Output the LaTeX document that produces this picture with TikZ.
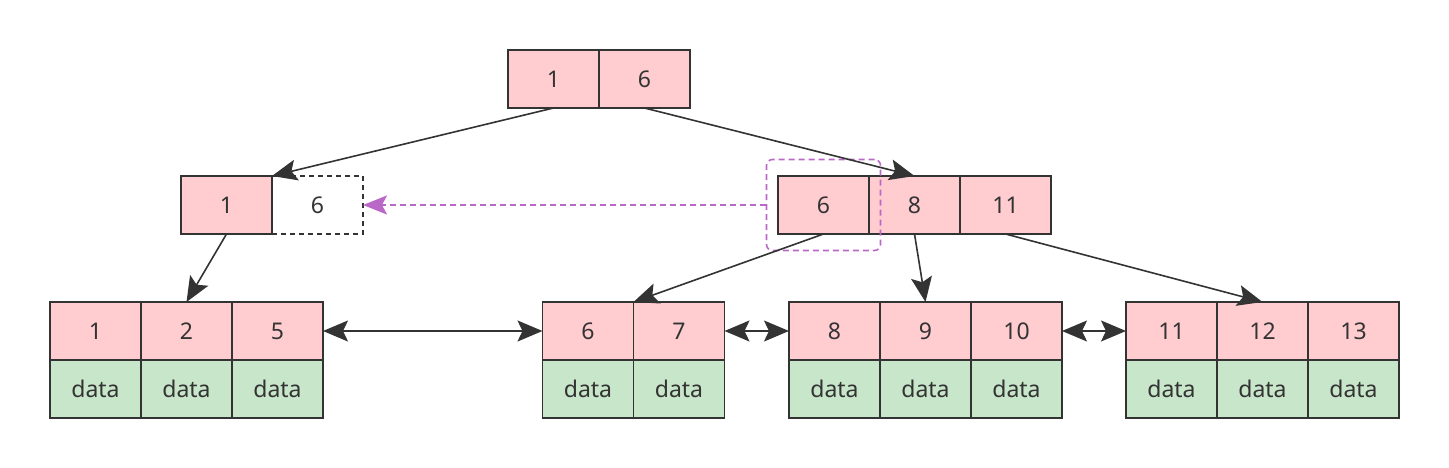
\documentclass[tikz,border=0pt]{standalone}
\usepackage{fontspec}
\setmainfont{Noto Sans}
\usepackage{tikz}
\usetikzlibrary{arrows.meta,positioning,fit}
\definecolor{keypink}{HTML}{FFCCD0}
\definecolor{datagreen}{HTML}{C8E6C9}
\definecolor{edgegray}{HTML}{333333}
\definecolor{linkpurple}{HTML}{BA68C8}
\tikzset{
  keycell/.style   = {draw=edgegray,line width=1.6pt,fill=keypink,minimum width=91pt,
                      minimum height=58pt,inner sep=0pt,outer sep=0pt,text=edgegray},
  datacell/.style  = {keycell,fill=datagreen},
  ghostcell/.style = {keycell,fill=none,dashed,dash pattern=on 5pt off 4pt},
  ptrarr/.style    = {-{Stealth[length=25pt,width=21pt,inset=5pt]},line width=1.6pt,edgegray},
  linkarr/.style   = {{Stealth[length=25pt,width=21pt,inset=5pt]}-{Stealth[length=25pt,width=21pt,inset=5pt]},
                      line width=1.6pt,edgegray},
  selbox/.style    = {draw=linkpurple,line width=1.6pt,dash pattern=on 6pt off 4pt,
                      rounded corners=6pt,inner xsep=11.5pt,inner ysep=16.5pt}
}
% one leaf cell: key on top, data below
\newcommand{\leafcell}[3]{%
  \node[keycell,#2] (l#1) {#3};
  \node[datacell,below=0pt of l#1] (d#1) {data};
}
\begin{document}
\begin{tikzpicture}[x=1pt,y=-1pt,font=\fontsize{23pt}{27pt}\selectfont]
  \useasboundingbox (0,0) rectangle (1449,468);
  % root
  \node[keycell] (r1) at (553.5,79) {1};
  \node[keycell,right=0pt of r1] (r6) {6};
  % inner nodes
  \node[keycell] (a1) at (226.5,205) {1};
  \node[ghostcell,right=0pt of a1] (a6) {6};
  \node[keycell] (b6) at (823.5,205) {6};
  \node[keycell,right=0pt of b6] (b8) {8};
  \node[keycell,right=0pt of b8] (b11) {11};
  % leaves
  \leafcell{1}{at={(95.5,331)}}{1}
  \leafcell{2}{right=0pt of l1}{2}
  \leafcell{5}{right=0pt of l2}{5}
  \leafcell{6}{at={(588,331)}}{6}
  \leafcell{7}{right=0pt of l6}{7}
  \leafcell{8}{at={(834.5,331)}}{8}
  \leafcell{9}{right=0pt of l8}{9}
  \leafcell{10}{right=0pt of l9}{10}
  \leafcell{11}{at={(1171.5,331)}}{11}
  \leafcell{12}{right=0pt of l11}{12}
  \leafcell{13}{right=0pt of l12}{13}
  % key 6 moved up
  \node[selbox,fit=(b6)] (sel) {};
  \draw[linkpurple,line width=1.6pt,dash pattern=on 6pt off 4pt,
        -{Stealth[length=24pt,width=19pt,inset=5pt]}] (sel.west) -- (a6.east);
  % child pointers
  \draw[ptrarr] (r1.south) -- (a1.north east);
  \draw[ptrarr] (r6.south) -- (b8.north);
  \draw[ptrarr] (a1.south) -- (l2.north);
  \draw[ptrarr] (b6.south) -- (l6.north east);
  \draw[ptrarr] (b8.south) -- (l9.north);
  \draw[ptrarr] (b11.south) -- (l12.north);
  % leaf links
  \draw[linkarr] (l5.east) -- (l6.west);
  \draw[linkarr] (l7.east) -- (l8.west);
  \draw[linkarr] (l10.east) -- (l11.west);
\end{tikzpicture}
\end{document}
